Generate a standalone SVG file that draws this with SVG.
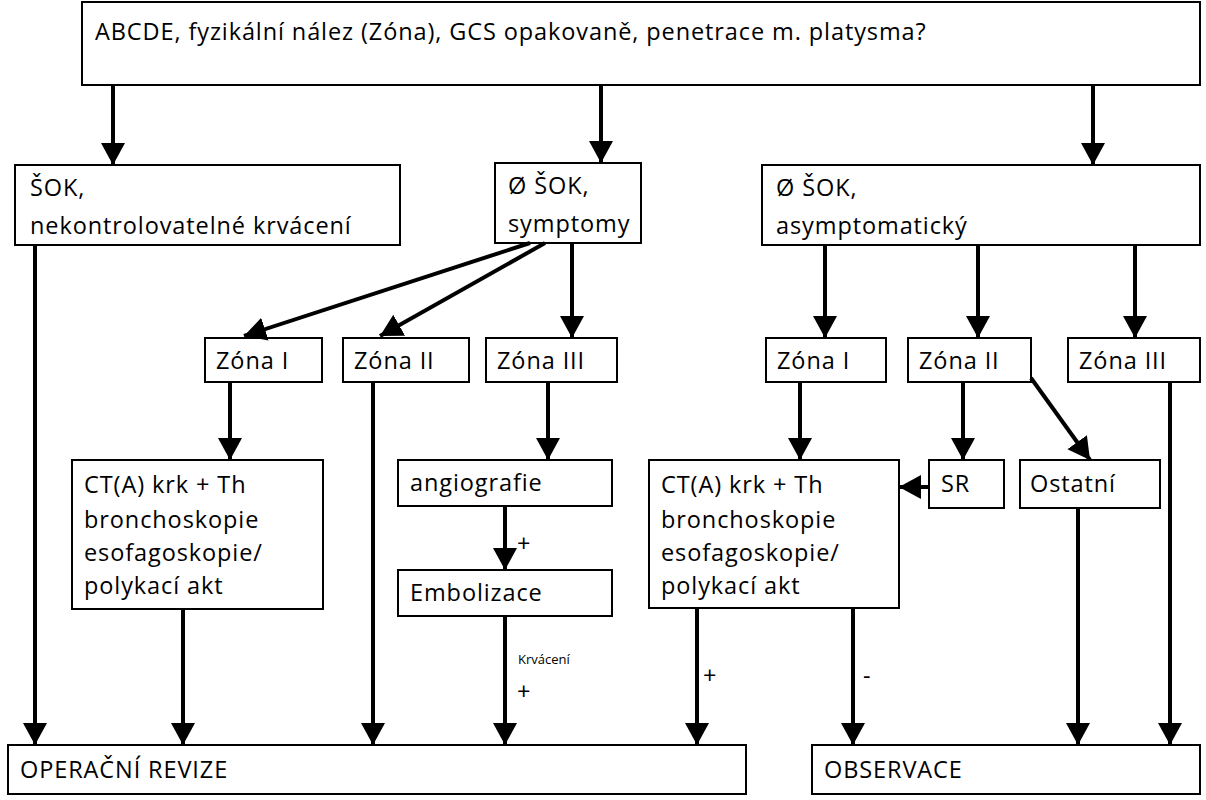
<svg xmlns="http://www.w3.org/2000/svg" width="1206" height="800" viewBox="0 0 1206 800">
<style>
.b{fill:#fff;stroke:#000;stroke-width:2}
text{font-family:"Open Sans","Liberation Sans",sans-serif;font-size:23.5px;letter-spacing:0.9px;fill:#000}
.s{font-size:13px;letter-spacing:0}
#c line{stroke:#000;stroke-width:4}
</style>
<defs><marker id="a" markerUnits="userSpaceOnUse" markerWidth="26" markerHeight="26" refX="22" refY="12" orient="auto"><path d="M0,0 L22,12 L0,24 Z" fill="#000"/></marker></defs>
<rect width="1206" height="800" fill="#fff"/>
<g id="n0"><rect class="b" x="82" y="2" width="1118" height="83"/><text x="95" y="40">ABCDE, fyzikální nález (Zóna), GCS opakovaně, penetrace m. platysma?</text></g>
<g id="n1"><rect class="b" x="15" y="165" width="385" height="80"/><text x="30" y="196">ŠOK,</text><text x="30" y="234">nekontrolovatelné krvácení</text></g>
<g id="n2"><rect class="b" x="495" y="163" width="146" height="80"/><text x="508" y="194">Ø ŠOK,</text><text x="508" y="232">symptomy</text></g>
<g id="n3"><rect class="b" x="762" y="165" width="438" height="80"/><text x="776" y="196">Ø ŠOK,</text><text x="776" y="234">asymptomatický</text></g>
<g id="n4"><rect class="b" x="205" y="338" width="117" height="44"/><text x="216" y="369">Zóna I</text></g>
<g id="n5"><rect class="b" x="343" y="338" width="126" height="44"/><text x="354" y="369">Zóna II</text></g>
<g id="n6"><rect class="b" x="486" y="338" width="131" height="44"/><text x="497" y="369">Zóna III</text></g>
<g id="n7"><rect class="b" x="766" y="338" width="120" height="44"/><text x="777" y="369">Zóna I</text></g>
<g id="n8"><rect class="b" x="908" y="338" width="123" height="44"/><text x="919" y="369">Zóna II</text></g>
<g id="n9"><rect class="b" x="1068" y="338" width="132" height="44"/><text x="1079" y="369">Zóna III</text></g>
<g id="n10"><rect class="b" x="72" y="460" width="251" height="149"/><text x="84" y="493">CT(A) krk + Th</text><text x="84" y="528">bronchoskopie</text><text x="84" y="561">esofagoskopie/</text><text x="84" y="594">polykací akt</text></g>
<g id="n11"><rect class="b" x="398" y="460" width="214" height="46"/><text x="410" y="491">angiografie</text></g>
<g id="n12"><rect class="b" x="398" y="570" width="214" height="46"/><text x="410" y="601">Embolizace</text></g>
<g id="n13"><rect class="b" x="649" y="460" width="250" height="148"/><text x="661" y="493">CT(A) krk + Th</text><text x="661" y="528">bronchoskopie</text><text x="661" y="561">esofagoskopie/</text><text x="661" y="594">polykací akt</text></g>
<g id="n14"><rect class="b" x="929" y="460" width="75" height="48"/><text x="941" y="492">SR</text></g>
<g id="n15"><rect class="b" x="1020" y="460" width="140" height="48"/><text x="1030" y="492">Ostatní</text></g>
<g id="n16"><rect class="b" x="8" y="745" width="738" height="49"/><text x="20" y="778">OPERAČNÍ REVIZE</text></g>
<g id="n17"><rect class="b" x="812" y="745" width="388" height="49"/><text x="824" y="778">OBSERVACE</text></g>
<g id="c">
<line x1="113" y1="85" x2="113" y2="165" marker-end="url(#a)"/>
<line x1="601" y1="85" x2="601" y2="163" marker-end="url(#a)"/>
<line x1="1093" y1="85" x2="1093" y2="165" marker-end="url(#a)"/>
<line x1="35" y1="245" x2="35" y2="745" marker-end="url(#a)"/>
<line x1="530" y1="243" x2="244" y2="336" marker-end="url(#a)"/>
<line x1="545" y1="243" x2="380" y2="336" marker-end="url(#a)"/>
<line x1="572" y1="243" x2="572" y2="338" marker-end="url(#a)"/>
<line x1="825" y1="245" x2="825" y2="338" marker-end="url(#a)"/>
<line x1="978" y1="245" x2="978" y2="338" marker-end="url(#a)"/>
<line x1="1135" y1="245" x2="1135" y2="338" marker-end="url(#a)"/>
<line x1="230" y1="382" x2="230" y2="460" marker-end="url(#a)"/>
<line x1="373" y1="382" x2="373" y2="745" marker-end="url(#a)"/>
<line x1="548" y1="382" x2="548" y2="460" marker-end="url(#a)"/>
<line x1="505" y1="506" x2="505" y2="570" marker-end="url(#a)"/>
<line x1="505" y1="616" x2="505" y2="745" marker-end="url(#a)"/>
<line x1="183" y1="609" x2="183" y2="745" marker-end="url(#a)"/>
<line x1="800" y1="382" x2="800" y2="460" marker-end="url(#a)"/>
<line x1="963" y1="382" x2="963" y2="460" marker-end="url(#a)"/>
<line x1="1031" y1="378" x2="1090" y2="460" marker-end="url(#a)"/>
<line x1="929" y1="487" x2="899" y2="487" marker-end="url(#a)"/>
<line x1="697" y1="608" x2="697" y2="745" marker-end="url(#a)"/>
<line x1="853" y1="608" x2="853" y2="745" marker-end="url(#a)"/>
<line x1="1078" y1="508" x2="1078" y2="745" marker-end="url(#a)"/>
<line x1="1170" y1="382" x2="1170" y2="745" marker-end="url(#a)"/>
</g>
<text x="517" y="552">+</text>
<text class="s" x="518" y="664">Krvácení</text>
<text x="517" y="700">+</text>
<text x="703" y="684">+</text>
<text x="863" y="684">-</text>
</svg>
